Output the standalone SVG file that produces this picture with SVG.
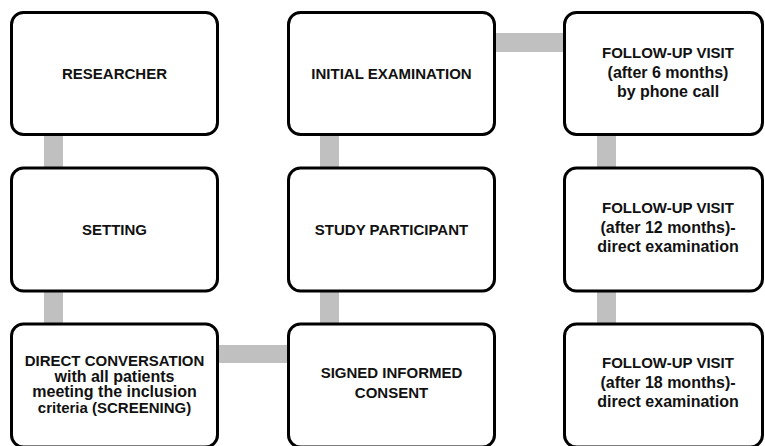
<svg xmlns="http://www.w3.org/2000/svg" width="765" height="446" viewBox="0 0 765 446">
<style>
.box{fill:#fff;stroke:#000;stroke-width:3}
.bar{fill:#c0c0c0}
text{font-family:"Liberation Sans",Arial,sans-serif;font-weight:bold;font-size:15px;fill:#111;text-anchor:middle}
text.lc{font-size:16px}
</style>
<rect width="765" height="446" fill="#fff"/>
<g id="connectors">
<rect class="bar" x="44" y="130" width="19" height="42"/>
<rect class="bar" x="44" y="286" width="19" height="42"/>
<rect class="bar" x="320" y="130" width="19" height="42"/>
<rect class="bar" x="320" y="286" width="19" height="42"/>
<rect class="bar" x="597" y="130" width="19" height="42"/>
<rect class="bar" x="597" y="286" width="19" height="42"/>
<rect class="bar" x="214" y="345" width="78" height="18"/>
<rect class="bar" x="490" y="33" width="78" height="19"/>
</g>
<g id="researcher"><rect class="box" x="11.5" y="12.5" width="206" height="122" rx="12"/><text x="114.5" y="79">RESEARCHER</text></g>
<g id="setting"><rect class="box" x="11.5" y="168" width="206" height="123" rx="12"/><text x="114.5" y="235">SETTING</text></g>
<g id="screening"><rect class="box" x="11.5" y="324" width="206" height="123" rx="12"/>
<text x="114.5" y="366">DIRECT CONVERSATION</text>
<text class="lc" x="114.5" y="381.7">with all patients</text>
<text class="lc" x="114.5" y="397.3">meeting the inclusion</text>
<text x="114.5" y="413">criteria (SCREENING)</text></g>
<g id="initial"><rect class="box" x="288.5" y="12.5" width="206" height="122" rx="12"/><text x="391.5" y="79">INITIAL EXAMINATION</text></g>
<g id="participant"><rect class="box" x="288.5" y="168" width="206" height="123" rx="12"/><text x="391.5" y="235">STUDY PARTICIPANT</text></g>
<g id="consent"><rect class="box" x="288.5" y="324" width="206" height="123" rx="12"/>
<text x="391.5" y="378">SIGNED INFORMED</text>
<text x="391.5" y="398">CONSENT</text></g>
<g id="fu6"><rect class="box" x="564.5" y="12.5" width="198" height="122" rx="12"/>
<text x="668" y="58.3">FOLLOW-UP VISIT</text>
<text class="lc" x="668" y="77.7">(after 6 months)</text>
<text class="lc" x="668" y="96.7">by phone call</text></g>
<g id="fu12"><rect class="box" x="564.5" y="168" width="198" height="123" rx="12"/>
<text x="668" y="213.3">FOLLOW-UP VISIT</text>
<text class="lc" x="668" y="232.7">(after 12 months)-</text>
<text class="lc" x="668" y="252.3">direct examination</text></g>
<g id="fu18"><rect class="box" x="564.5" y="324" width="198" height="123" rx="12"/>
<text x="668" y="368.3">FOLLOW-UP VISIT</text>
<text class="lc" x="668" y="387.7">(after 18 months)-</text>
<text class="lc" x="668" y="407.3">direct examination</text></g>
</svg>
